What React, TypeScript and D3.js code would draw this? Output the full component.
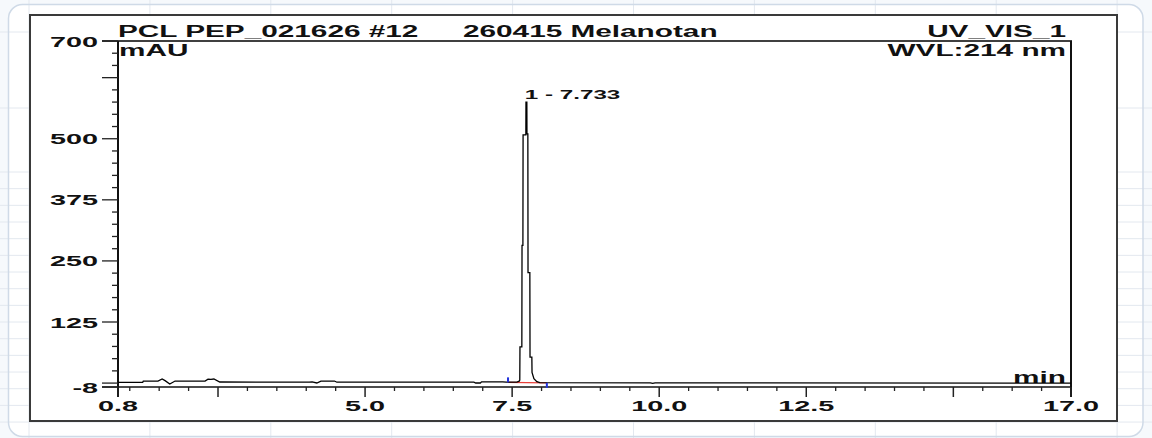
import React from "react";
import * as d3 from "d3";

// ---- data (retention time in min, absorbance in mAU) ----
const traceTime = [
  0.8, 1.22, 1.23, 1.48, 1.55, 1.6, 1.68, 1.77, 2.28, 2.33, 2.38, 2.43, 2.53,
  4.05, 4.1, 4.18, 4.25, 4.48, 4.52, 6.85, 6.88, 6.96, 6.98, 7.34, 7.4, 7.58,
  7.62, 7.63, 7.633, 7.665, 7.668, 7.683, 7.686, 7.733, 7.735, 7.75, 7.752,
  7.767, 7.77, 7.801, 7.804, 7.835, 7.838, 7.87, 7.92, 7.97, 9.85, 9.89, 9.93,
  17.0,
];
const traceValue = [
  1.6, 1.6, 4.2, 4.2, 8.3, 5.0, -1.9, 4.2, 4.2, 8.0, 7.6, 8.3, 2.2,
  1.8, 2.6, 0.2, 4.2, 4.2, 1.8, 1.8, 0.2, 0.2, 2.6, 2.6, 1.8, 1.8,
  4.0, 6.3, 74, 74, 282, 282, 508, 508, 575, 575, 510,
  510, 226, 226, 53, 53, 22, 9, 3, 0.8, 0.6, -0.6, 0.6,
  -0.2,
];
const peakLabel = "1 - 7.733";
const peakTime = 7.733;
const peakHeight = 575;
const integStart = [7.43, 1.5];
const integEnd = [8.09, 0.5];

const xDomain = [0.8, 17.0];
const yDomain = [-8, 700];
const xLabels = [0.8, 5.0, 7.5, 10.0, 12.5, 17.0];
const xMajor = [0.8, 2.5, 5.0, 7.5, 10.0, 12.5, 15.0, 17.0];
const xMinor = d3.range(1.0, 17.0, 0.5).filter((v) => Math.abs(v / 2.5 - Math.round(v / 2.5)) > 1e-6);
const yLabels = [-8, 125, 250, 375, 500, 700];
const yMajor = [-8, 0, 125, 250, 375, 500, 625, 700];
const yMinor = d3.range(25, 700, 25).filter((v) => v % 125 !== 0);

const titleLeft = "PCL PEP_021626 #12";
const titleMid = "260415 Melanotan";
const titleRight = "UV_VIS_1";
const unitY = "mAU";
const wavelength = "WVL:214 nm";
const unitX = "min";

const W = 1152;
const H = 438;
const SX = 1.86;
const FONT = "'Liberation Sans', Arial, Helvetica, sans-serif";

function T({ x, y, anchor = "start", size = 16, children, weight = "bold" }: any) {
  return (
    <text
      transform={`translate(${x},${y}) scale(${SX},1)`}
      textAnchor={anchor}
      fontSize={size}
      fontFamily={FONT}
      fontWeight={weight}
      fill="#111"
    >
      {children}
    </text>
  );
}

export default function App() {
  const L = 118, R = 1071, TOP = 41, BOT = 387;
  const x = d3.scaleLinear().domain(xDomain).range([L, R]);
  const y = d3.scaleLinear().domain(yDomain).range([BOT, TOP]);
  const pts = traceTime.map((t, i) => [t, traceValue[i]] as [number, number]);
  const line = d3
    .line<[number, number]>()
    .x((d) => x(d[0]))
    .y((d) => y(d[1]));

  const gridX = d3.range(29, W + 1, 120.9);
  const gridY = [32, 108, ...d3.range(172, H + 1, 16.67)];

  return (
    <svg
      width={W}
      height={H}
      style={{ position: "absolute", left: 0, top: 0, display: "block" }}
    >
      <rect x={0} y={0} width={W} height={H} fill="#f6f9fc" />
      <rect x={8.5} y={4.5} width={1134.5} height={432} rx={14} fill="#ffffff" />
      {gridX.map((gx, i) => (
        <line key={"gx" + i} x1={gx} x2={gx} y1={0} y2={H} stroke="#e3e8ef" strokeWidth={1} />
      ))}
      {gridY.map((gy, i) => (
        <line key={"gy" + i} x1={0} x2={W} y1={gy} y2={gy} stroke="#e3e8ef" strokeWidth={1} />
      ))}
      <rect x={8.5} y={4.5} width={1134.5} height={432} rx={14} fill="none" stroke="#cfdae7" strokeWidth={1.5} />

      {/* chart frame */}
      <rect x={30} y={15} width={1087} height={406} fill="#fff" stroke="#3a3a3a" strokeWidth={2} />

      {/* plot box */}
      <line x1={L - 16} x2={R + 1} y1={TOP} y2={TOP} stroke="#000" strokeWidth={1.5} />
      <line x1={R} x2={R} y1={TOP} y2={BOT + 10} stroke="#111" strokeWidth={2} />
      <line x1={L} x2={L} y1={TOP} y2={BOT + 10} stroke="#111" strokeWidth={2} />
      <line x1={L - 16} x2={R} y1={BOT} y2={BOT} stroke="#111" strokeWidth={1.5} />

      {/* y ticks */}
      {yMajor.map((v) => (
        <line key={"ym" + v} x1={L - 16} x2={L} y1={y(v)} y2={y(v)} stroke="#222" strokeWidth={1.3} />
      ))}
      {yMinor.map((v) => (
        <line key={"yn" + v} x1={L - 6} x2={L} y1={y(v)} y2={y(v)} stroke="#222" strokeWidth={1.3} />
      ))}
      {/* x ticks */}
      {xMajor.map((v) => (
        <line key={"xm" + v} x1={x(v)} x2={x(v)} y1={BOT} y2={BOT + 10} stroke="#222" strokeWidth={1.5} />
      ))}
      {xMinor.map((v) => (
        <line key={"xn" + v} x1={x(v)} x2={x(v)} y1={BOT} y2={BOT + 4} stroke="#222" strokeWidth={1.3} />
      ))}

      {/* tick labels */}
      {yLabels.map((v) => (
        <T key={"yl" + v} x={98} y={y(v) + 5.5} anchor="end" size={15.5}>
          {String(v)}
        </T>
      ))}
      {xLabels.map((v) => (
        <T key={"xl" + v} x={x(v)} y={411} anchor="middle" size={15.5}>
          {v.toFixed(1)}
        </T>
      ))}

      {/* header texts */}
      <T x={118} y={37.3}>{titleLeft}</T>
      <T x={463} y={37.3}>{titleMid}</T>
      <T x={1066} y={37.3} anchor="end">{titleRight}</T>
      <T x={119} y={56}>{unitY}</T>
      <T x={1066} y={56} anchor="end">{wavelength}</T>
      <T x={1066} y={383} anchor="end">{unitX}</T>

      {/* integration baseline */}
      <line
        x1={x(integStart[0])}
        y1={y(integStart[1])}
        x2={x(integEnd[0])}
        y2={y(integEnd[1])}
        stroke="#e8403a"
        strokeWidth={1.3}
      />

      {/* trace */}
      <path d={line(pts) || ""} fill="none" stroke="#000" strokeWidth={1.3} strokeLinejoin="miter" />

      {/* integration marks */}
      <line
        x1={x(integStart[0])}
        x2={x(integStart[0])}
        y1={y(integStart[1])}
        y2={y(integStart[1]) - 5}
        stroke="#2233dd"
        strokeWidth={2}
      />
      <line
        x1={x(integEnd[0])}
        x2={x(integEnd[0])}
        y1={y(integEnd[1])}
        y2={y(integEnd[1]) + 5}
        stroke="#2233dd"
        strokeWidth={2}
      />

      {/* peak label */}
      <T x={x(peakTime) - 1} y={y(peakHeight) - 3.5} size={13}>
        {peakLabel}
      </T>
    </svg>
  );
}
